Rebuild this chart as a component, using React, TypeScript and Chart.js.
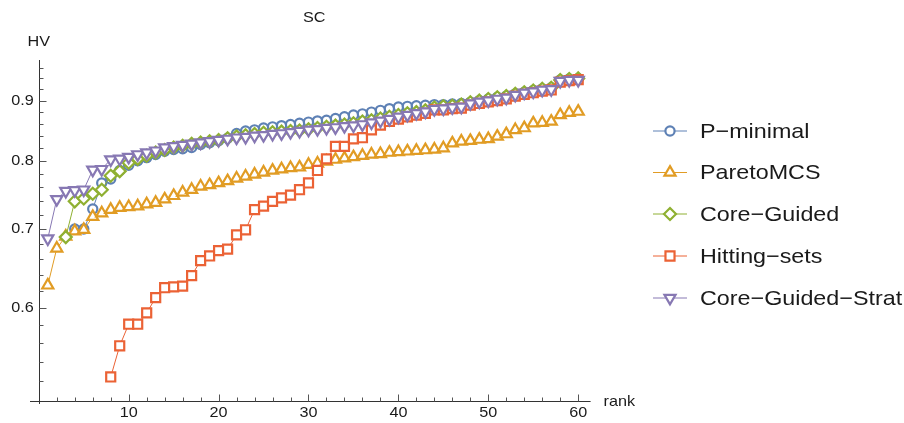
import React, { useEffect, useRef } from 'react';
import { Chart, registerables } from 'chart.js';

Chart.register(...registerables);

const ranks = [
  1, 2, 3, 4, 5, 6, 7, 8, 9, 10, 11, 12, 13, 14, 15, 16, 17, 18, 19, 20,
  21, 22, 23, 24, 25, 26, 27, 28, 29, 30, 31, 32, 33, 34, 35, 36, 37, 38, 39, 40,
  41, 42, 43, 44, 45, 46, 47, 48, 49, 50, 51, 52, 53, 54, 55, 56, 57, 58, 59, 60,
];

const pMinimal = [
  null, null, null, 0.700, 0.700, 0.728, 0.766, 0.772, 0.785, 0.793,
  0.800, 0.805, 0.810, 0.815, 0.818, 0.819, 0.821, 0.826, 0.829, 0.832,
  0.836, 0.844, 0.848, 0.850, 0.853, 0.855, 0.857, 0.859, 0.861, 0.863,
  0.865, 0.866, 0.869, 0.872, 0.875, 0.877, 0.880, 0.883, 0.886, 0.889,
  0.890, 0.891, 0.892, 0.893, 0.893, 0.894, 0.895, 0.897, 0.900, 0.903,
  0.906, 0.908, 0.912, 0.915, 0.918, 0.921, 0.923, 0.937, 0.939, 0.940,
];

const paretoMCS = [
  0.627, 0.674, 0.690, 0.697, 0.699, 0.717, 0.722, 0.727, 0.730, 0.731,
  0.732, 0.735, 0.737, 0.742, 0.747, 0.752, 0.756, 0.761, 0.763, 0.766,
  0.769, 0.773, 0.776, 0.779, 0.782, 0.785, 0.787, 0.789, 0.790, 0.794,
  0.796, 0.799, 0.802, 0.804, 0.806, 0.808, 0.810, 0.811, 0.813, 0.814,
  0.815, 0.816, 0.817, 0.818, 0.820, 0.828, 0.831, 0.832, 0.834, 0.835,
  0.839, 0.843, 0.850, 0.853, 0.861, 0.862, 0.864, 0.875, 0.879, 0.881,
];

const coreGuided = [
  null, null, 0.689, 0.739, 0.743, 0.750, 0.756, 0.777, 0.784, 0.797,
  0.803, 0.808, 0.813, 0.817, 0.821, 0.824, 0.827, 0.829, 0.831, 0.833,
  0.836, 0.839, 0.841, 0.843, 0.845, 0.846, 0.847, 0.848, 0.849, 0.851,
  0.853, 0.855, 0.857, 0.859, 0.861, 0.864, 0.866, 0.869, 0.872, 0.875,
  0.878, 0.880, 0.883, 0.888, 0.890, 0.891, 0.893, 0.897, 0.900, 0.903,
  0.906, 0.908, 0.912, 0.915, 0.918, 0.921, 0.923, 0.937, 0.939, 0.940,
];

const hittingSets = [
  null, null, null, null, null, null, null, 0.524, 0.557, 0.581,
  0.581, 0.594, 0.612, 0.624, 0.625, 0.626, 0.639, 0.658, 0.664, 0.671,
  0.673, 0.692, 0.699, 0.727, 0.732, 0.739, 0.744, 0.748, 0.756, 0.766,
  0.785, 0.803, 0.823, 0.823, 0.835, 0.837, 0.850, 0.858, 0.864, 0.868,
  0.872, 0.875, 0.878, 0.884, 0.884, 0.886, 0.887, 0.892, 0.895, 0.898,
  0.900, 0.903, 0.908, 0.911, 0.914, 0.917, 0.919, 0.933, 0.936, 0.938,
];

const coreGuidedStrat = [
  0.687, 0.742, 0.754, 0.755, 0.756, 0.786, 0.787, 0.802, 0.803, 0.806,
  0.810, 0.813, 0.816, 0.821, 0.823, 0.825, 0.827, 0.829, 0.831, 0.833,
  0.835, 0.837, 0.838, 0.840, 0.841, 0.843, 0.844, 0.846, 0.848, 0.850,
  0.851, 0.853, 0.854, 0.856, 0.857, 0.859, 0.862, 0.865, 0.868, 0.872,
  0.875, 0.878, 0.881, 0.885, 0.886, 0.888, 0.889, 0.895, 0.898, 0.900,
  0.903, 0.905, 0.910, 0.914, 0.916, 0.919, 0.920, 0.935, 0.937, 0.937,
];

const seriesNames = ['P\u2212minimal', 'ParetoMCS', 'Core\u2212Guided', 'Hitting\u2212sets', 'Core\u2212Guided\u2212Strat'];
const seriesValues = [pMinimal, paretoMCS, coreGuided, hittingSets, coreGuidedStrat];

const xMajorTicks = [10, 20, 30, 40, 50, 60];
const xMinorTicks = [2, 4, 6, 8, 12, 14, 16, 18, 22, 24, 26, 28, 32, 34, 36, 38, 42, 44, 46, 48, 52, 54, 56, 58];
const yMajorTicks = [0.6, 0.7, 0.8, 0.9];
const yTickLabels = ['0.6', '0.7', '0.8', '0.9'];
const yMinorTicks = [
  0.52, 0.54, 0.56, 0.58, 0.62, 0.64, 0.66, 0.68, 0.72, 0.74, 0.76, 0.78,
  0.82, 0.84, 0.86, 0.88, 0.92, 0.94, 0.96,
];

const COLORS = ['#5E81B5', '#E19C24', '#8FB032', '#EB6235', '#8778B3'];
const POINT_STYLES = ['circle', 'triangle', 'rectRot', 'rect', 'triangle'];
const POINT_ROT = [0, 0, 0, 0, 180];
const POINT_RADIUS = [4.6, 6.4, 6.0, 6.4, 6.4];
const FONT = '"Liberation Sans", Arial, sans-serif';

function drawMarker(ctx: CanvasRenderingContext2D, style: string, rot: number, r: number, x: number, y: number) {
  ctx.beginPath();
  if (style === 'circle') {
    ctx.arc(x, y, r, 0, Math.PI * 2);
  } else if (style === 'rect') {
    const s = Math.SQRT1_2 * r;
    ctx.rect(x - s, y - s, 2 * s, 2 * s);
  } else if (style === 'rectRot') {
    ctx.moveTo(x, y - r);
    ctx.lineTo(x + r, y);
    ctx.lineTo(x, y + r);
    ctx.lineTo(x - r, y);
    ctx.closePath();
  } else {
    let rad = (rot * Math.PI) / 180;
    ctx.moveTo(x + Math.sin(rad) * r, y - Math.cos(rad) * r);
    rad += (2 * Math.PI) / 3;
    ctx.lineTo(x + Math.sin(rad) * r, y - Math.cos(rad) * r);
    rad += (2 * Math.PI) / 3;
    ctx.lineTo(x + Math.sin(rad) * r, y - Math.cos(rad) * r);
    ctx.closePath();
  }
  ctx.fillStyle = '#ffffff';
  ctx.fill();
  ctx.stroke();
}

function scaledText(ctx: CanvasRenderingContext2D, text: string, x: number, y: number, sx: number) {
  ctx.save();
  ctx.translate(x, y);
  ctx.scale(sx, 1);
  ctx.fillText(text, 0, 0);
  ctx.restore();
}

const axesPlugin = {
  id: 'mmaAxes',
  beforeDatasetsDraw(chart: any) {
    const ctx: CanvasRenderingContext2D = chart.ctx;
    const xs = chart.scales.x;
    const ys = chart.scales.y;
    const area = chart.chartArea;
    const x0 = xs.getPixelForValue(0);
    const yAxis = ys.getPixelForValue(0.5);
    ctx.save();
    ctx.strokeStyle = '#333333';
    ctx.lineWidth = 1;
    ctx.beginPath();
    ctx.moveTo(area.left, Math.round(yAxis) + 0.5);
    ctx.lineTo(area.right, Math.round(yAxis) + 0.5);
    ctx.stroke();
    ctx.beginPath();
    ctx.moveTo(Math.round(x0) + 0.5, area.top);
    ctx.lineTo(Math.round(x0) + 0.5, area.bottom);
    ctx.stroke();
    ctx.strokeStyle = '#555555';
    const yA = Math.round(yAxis) + 0.5;
    xMajorTicks.forEach((v) => {
      const px = Math.round(xs.getPixelForValue(v)) + 0.5;
      ctx.beginPath();
      ctx.moveTo(px, yA);
      ctx.lineTo(px, yA - 7);
      ctx.stroke();
    });
    xMinorTicks.forEach((v) => {
      const px = Math.round(xs.getPixelForValue(v)) + 0.5;
      ctx.beginPath();
      ctx.moveTo(px, yA);
      ctx.lineTo(px, yA - 4);
      ctx.stroke();
    });
    const xA = Math.round(x0) + 0.5;
    yMajorTicks.forEach((v) => {
      const py = Math.round(ys.getPixelForValue(v)) + 0.5;
      ctx.beginPath();
      ctx.moveTo(xA, py);
      ctx.lineTo(xA + 7, py);
      ctx.stroke();
    });
    yMinorTicks.forEach((v) => {
      const py = Math.round(ys.getPixelForValue(v)) + 0.5;
      ctx.beginPath();
      ctx.moveTo(xA, py);
      ctx.lineTo(xA + 4, py);
      ctx.stroke();
    });
    ctx.fillStyle = '#1a1a1a';
    ctx.font = `15px ${FONT}`;
    ctx.textBaseline = 'middle';
    ctx.textAlign = 'center';
    xMajorTicks.forEach((v) => {
      scaledText(ctx, String(v), xs.getPixelForValue(v), yAxis + 12, 1.08);
    });
    ctx.textAlign = 'right';
    yMajorTicks.forEach((v, i) => {
      scaledText(ctx, yTickLabels[i], x0 - 5, ys.getPixelForValue(v), 1.08);
    });
    ctx.textAlign = 'center';
    scaledText(ctx, 'HV', x0, 42, 1.08);
    ctx.textAlign = 'left';
    scaledText(ctx, 'rank', area.right + 13, yAxis + 1, 1.08);
    ctx.textAlign = 'center';
    scaledText(ctx, 'SC', (area.left + area.right) / 2 + 4, 18, 1.08);
    ctx.restore();
  },
  afterDraw(chart: any) {
    const ctx: CanvasRenderingContext2D = chart.ctx;
    const legendY = [131, 172.5, 214, 256, 298];
    ctx.save();
    seriesNames.forEach((name, i) => {
      const y = legendY[i];
      ctx.strokeStyle = COLORS[i];
      ctx.lineWidth = 1;
      ctx.beginPath();
      ctx.moveTo(653, y);
      ctx.lineTo(687, y);
      ctx.stroke();
      ctx.lineWidth = 2.2;
      drawMarker(ctx, POINT_STYLES[i], POINT_ROT[i], POINT_RADIUS[i], 670, y);
      ctx.fillStyle = '#1a1a1a';
      ctx.font = `21px ${FONT}`;
      ctx.textBaseline = 'middle';
      ctx.textAlign = 'left';
      scaledText(ctx, name, 700, y + 1, 1.11);
    });
    ctx.restore();
  },
};

export default function App() {
  const canvasRef = useRef<HTMLCanvasElement | null>(null);

  useEffect(() => {
    document.body.style.margin = '0';
    const canvas = canvasRef.current;
    if (!canvas) return;
    const datasets = seriesValues.map((vals, i) => ({
      label: seriesNames[i],
      data: ranks
        .map((r, j) => ({ x: r, y: vals[j] }))
        .filter((p) => p.y !== null),
      borderColor: COLORS[i],
      backgroundColor: '#ffffff',
      borderWidth: 1,
      pointStyle: POINT_STYLES[i],
      pointRotation: POINT_ROT[i],
      pointRadius: POINT_RADIUS[i],
      pointBorderWidth: 2.2,
      pointBackgroundColor: '#ffffff',
      pointBorderColor: COLORS[i],
      showLine: true,
      fill: false,
      tension: 0,
      order: 4 - i,
      clip: false as any,
    }));
    const chart = new Chart(canvas, {
      type: 'line',
      data: { datasets },
      options: {
        responsive: false,
        animation: false,
        events: [],
        layout: { padding: { left: 30, right: 313.4, top: 60, bottom: 19 } },
        plugins: { legend: { display: false }, title: { display: false }, tooltip: { enabled: false } },
        scales: {
          x: { type: 'linear', display: false, min: -0.979, max: 61.38, bounds: 'data' },
          y: { type: 'logarithmic', display: false, min: 0.497, max: 0.9745, bounds: 'data' },
        },
      },
      plugins: [axesPlugin],
    });
    return () => chart.destroy();
  }, []);

  return (
    <div style={{ position: 'fixed', left: 0, top: 0, width: 904, height: 423, background: '#fff' }}>
      <canvas ref={canvasRef} width={904} height={423} style={{ width: 904, height: 423, display: 'block' }} />
    </div>
  );
}
